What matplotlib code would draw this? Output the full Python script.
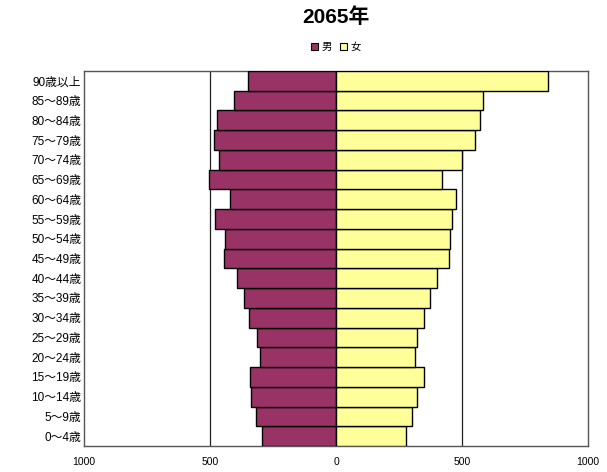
import matplotlib
matplotlib.use("Agg")
import matplotlib.pyplot as plt
from matplotlib.ticker import FuncFormatter, FixedLocator
from matplotlib.patches import Patch

plt.rcParams['font.family'] = ['Liberation Sans', 'Noto Sans CJK JP', 'DejaVu Sans']

categories = ["0～4歳", "5～9歳", "10～14歳", "15～19歳", "20～24歳", "25～29歳",
              "30～34歳", "35～39歳", "40～44歳", "45～49歳", "50～54歳", "55～59歳",
              "60～64歳", "65～69歳", "70～74歳", "75～79歳", "80～84歳", "85～89歳",
              "90歳以上"]

male = [292, 316, 338, 342, 300, 312, 345, 366, 394, 443, 440, 479, 420, 503, 463, 483, 472, 403, 351]
female = [278, 301, 322, 350, 313, 322, 350, 374, 400, 448, 452, 462, 477, 420, 500, 553, 573, 582, 842]

xticks = [-1000, -500, 0, 500, 1000]
title = "2065年"
legend_labels = ["男", "女"]

fig = plt.figure(figsize=(6.07, 4.72), dpi=100)
ax = fig.add_axes([84/607, 1-446/472, (588-84)/607, (446-71)/472])

y = list(range(len(categories)))
neg_male = [-v for v in male]
ax.barh(y, neg_male, height=1.0, color="#993366", edgecolor="black", linewidth=1.0, zorder=3)
ax.barh(y, female, height=1.0, color="#FFFF99", edgecolor="black", linewidth=1.0, zorder=3)

ax.set_xlim(-1000, 1000)
ax.set_ylim(-0.5, len(categories) - 0.5)
ax.xaxis.set_major_locator(FixedLocator(xticks))
ax.xaxis.set_major_formatter(FuncFormatter(lambda v, p: f"{abs(int(v))}"))
ax.set_yticks(y)
ax.set_yticklabels(categories, fontsize=8.5)
ax.tick_params(axis='x', labelsize=7.5, length=0, pad=8)
ax.tick_params(axis='y', length=0, pad=2)

for xv in (-500, 500):
    ax.axvline(xv, color="#222222", linewidth=0.9, zorder=1)

for s in ax.spines.values():
    s.set_color("#555555")
    s.set_linewidth(1.0)

fig.text(336/607, 1-17/472, title, ha="center", va="center", fontsize=15, fontweight="bold")

handles = [Patch(facecolor="#993366", edgecolor="black", linewidth=0.8),
           Patch(facecolor="#FFFF99", edgecolor="black", linewidth=0.8)]
fig.legend(handles, legend_labels, loc="center", bbox_to_anchor=(336/607, 1-47/472),
           ncol=2, frameon=False, fontsize=7.5, handlelength=0.7, handleheight=0.7,
           handletextpad=0.3, columnspacing=0.8)

fig.savefig("out.png", dpi=100)
